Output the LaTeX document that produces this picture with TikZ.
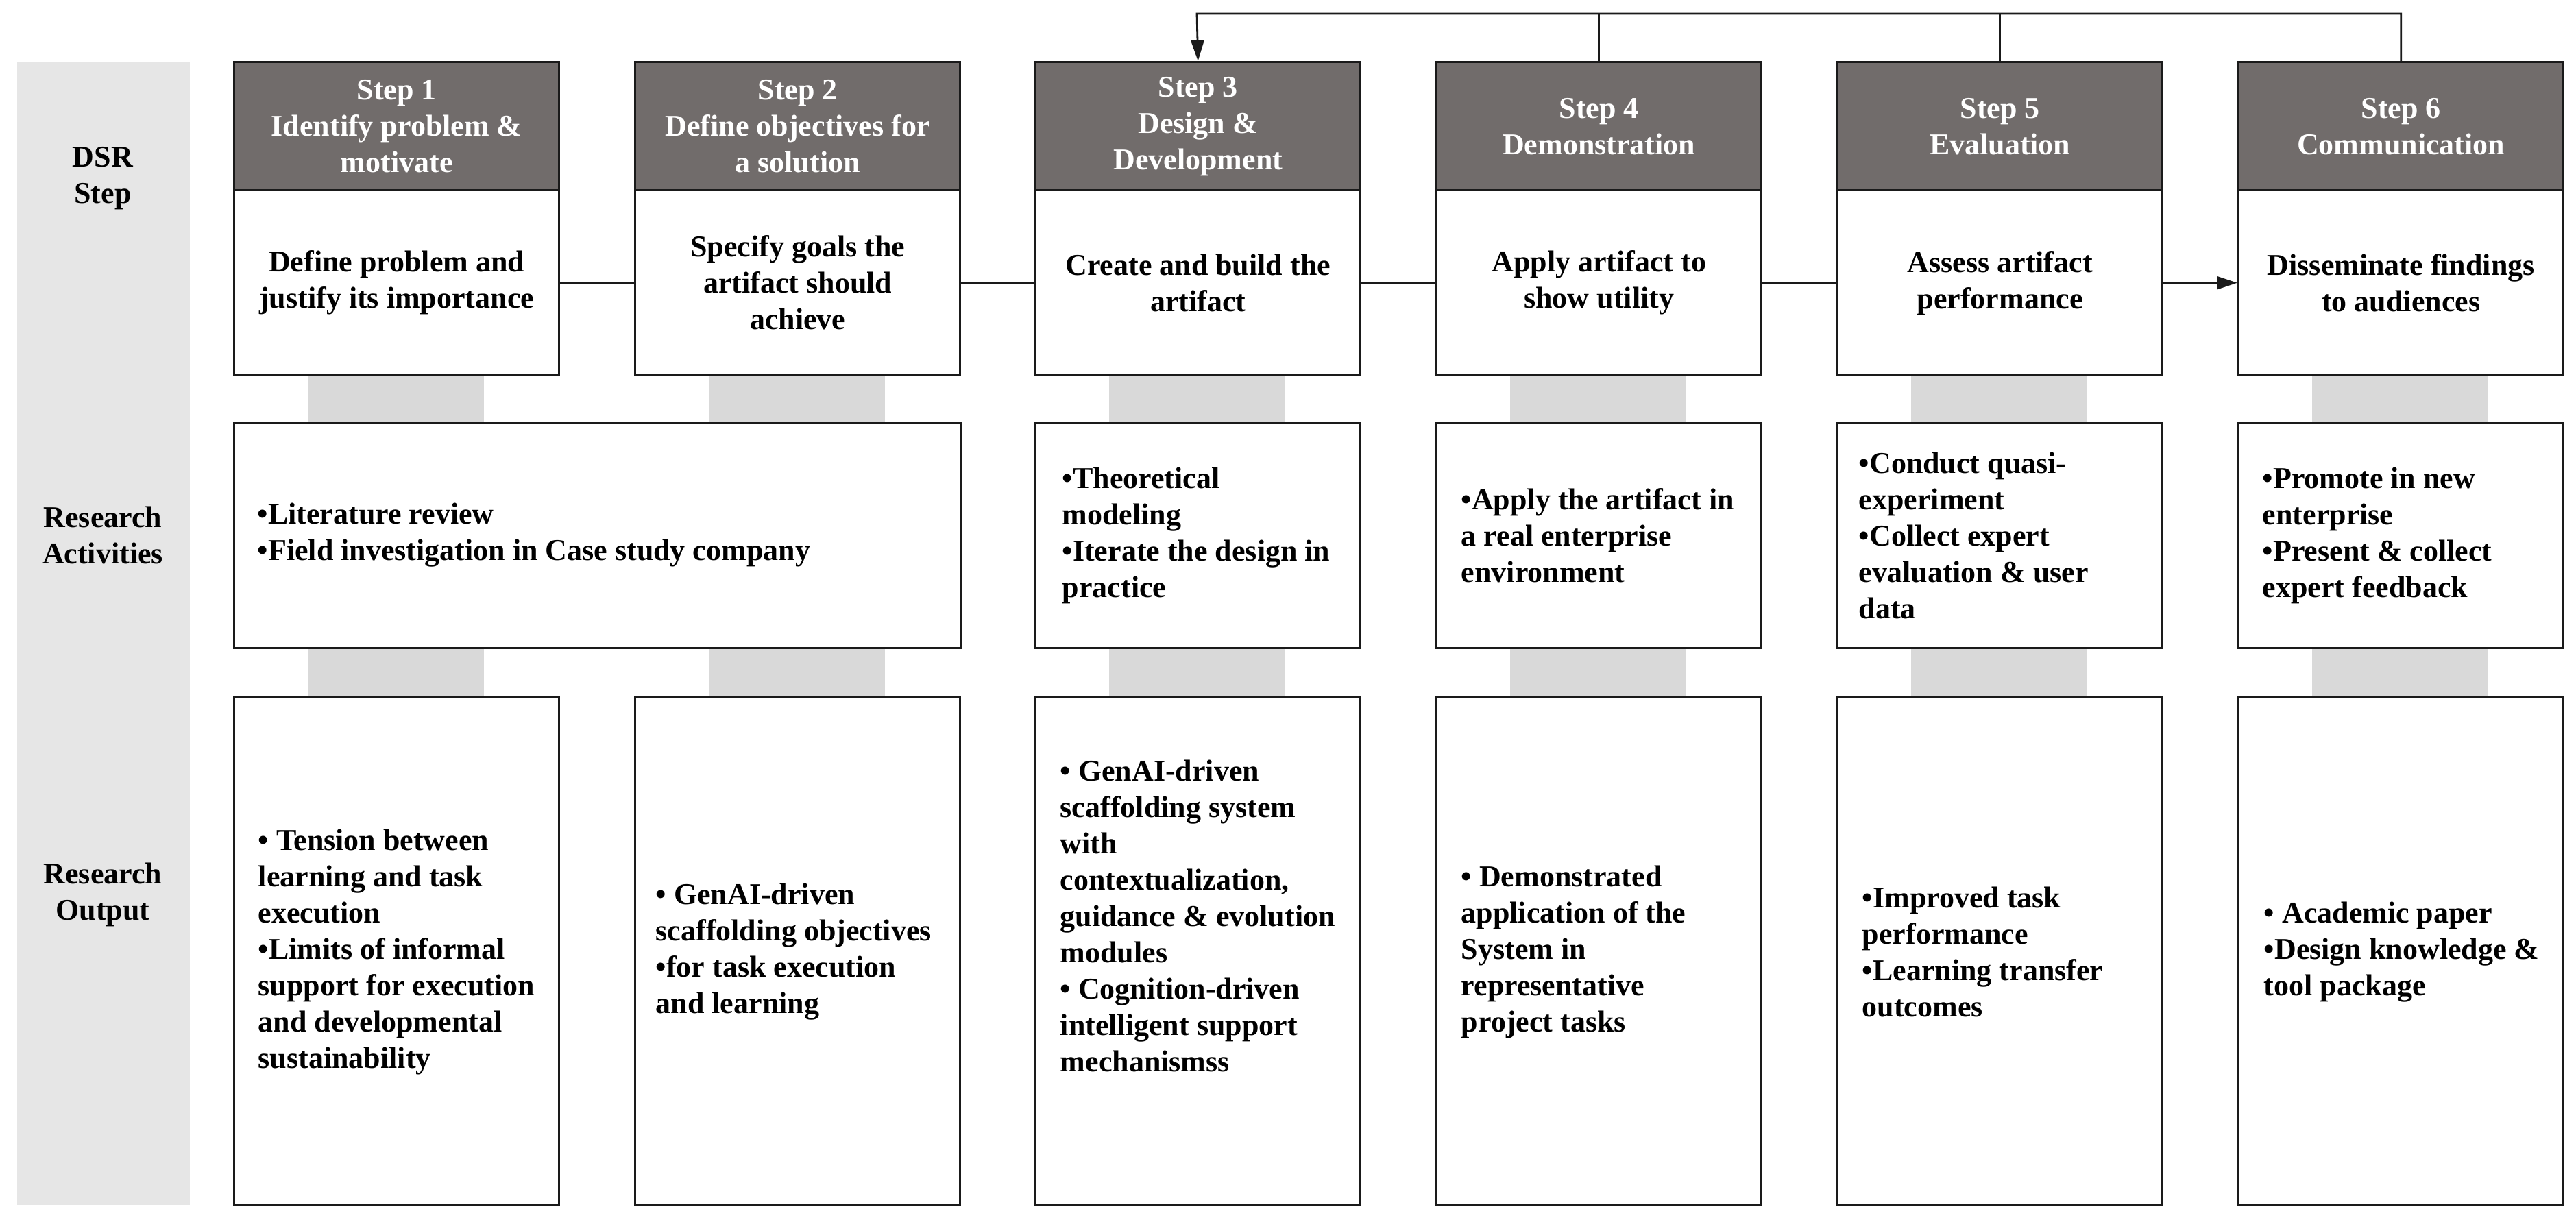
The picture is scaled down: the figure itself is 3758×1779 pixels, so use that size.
\documentclass[tikz,border=0pt]{standalone}
\usepackage{fontspec}
\setmainfont{Liberation Serif}
\usetikzlibrary{arrows.meta}
\definecolor{hdrgray}{HTML}{716C6B}
\definecolor{colgray}{HTML}{E6E6E6}
\definecolor{congray}{HTML}{D9D9D9}
\definecolor{edge}{HTML}{1A1A1A}
\begin{document}
\begin{tikzpicture}[x=0.25pt,y=-0.25pt,
  every node/.style={font=\fontsize{11}{13.25}\selectfont\bfseries},
  basebox/.style={draw=edge, line width=0.85pt, inner sep=0pt, anchor=north west, minimum width=118.5pt},
  hdrbox/.style={basebox, fill=hdrgray, text=white, align=center, minimum height=46.75pt},
  wbox/.style={basebox, fill=white, align=center, minimum height=67.5pt},
  actbox/.style={basebox, fill=white, minimum height=82pt},
  outbox/.style={basebox, fill=white, minimum height=185.25pt},
  txt/.style={anchor=west, align=left, inner sep=0pt},
  gcon/.style={fill=congray, draw=none, inner sep=0pt, anchor=north, minimum width=64.25pt},
  collabel/.style={align=center, inner sep=0pt},
  conn/.style={draw=edge, line width=0.7pt},
  tip/.style={-{Triangle[length=7.5pt,width=4.75pt]}}
]
\useasboundingbox (0,0) rectangle (3758,1779);
% left label column
\node[fill=colgray, draw=none, inner sep=0pt, anchor=north west, minimum width=63pt, minimum height=416.75pt] (col) at (24,90) {};
\node[collabel] (lab1) at (150,260) {DSR\\Step};
\node[collabel] (lab2) at (150,781) {Research\\Activities};
\node[collabel] (lab3) at (150,1305) {Research\\Output};

% gray connectors between rows
\foreach \c [count=\i] in {577,1162,1746,2331,2916,3501}{
  \node[gcon, minimum height=18pt] (ga\i) at (\c,544) {};
  \node[gcon, minimum height=19pt] (gb\i) at (\c,942) {};
}

% DSR step headers
\node[hdrbox] (h1) at (340,89) {Step 1\\Identify problem \&\\motivate};
\node[hdrbox] (h2) at (925,89) {Step 2\\Define objectives for\\a solution};
\node[hdrbox] (h3) at (1509,89) {Step 3\\Design \&\\Development};
\node[hdrbox] (h4) at (2094,89) {Step 4\\Demonstration};
\node[hdrbox] (h5) at (2679,89) {Step 5\\Evaluation};
\node[hdrbox] (h6) at (3264,89) {Step 6\\Communication};

% step descriptions
\node[wbox] (w1) at (340,276) {Define problem and\\justify its importance};
\node[wbox] (w2) at (925,276) {Specify goals the\\artifact should\\achieve};
\node[wbox] (w3) at (1509,276) {Create and build the\\artifact};
\node[wbox] (w4) at (2094,276) {Apply artifact to\\show utility};
\node[wbox] (w5) at (2679,276) {Assess artifact\\performance};
\node[wbox] (w6) at (3264,276) {Disseminate findings\\to audiences};

% research activities
\node[actbox, minimum width=265pt] (a12) at (340,616) {};
\node[actbox] (a3) at (1509,616) {};
\node[actbox] (a4) at (2094,616) {};
\node[actbox] (a5) at (2679,616) {};
\node[actbox] (a6) at (3264,616) {};
\node[txt] (ta12) at (375,781) {•Literature review\\•Field investigation in Case study company};
\node[txt] (ta3) at (1549,781) {•Theoretical\\modeling\\•Iterate the design in\\practice};
\node[txt] (ta4) at (2131,781) {•Apply the artifact in\\a real enterprise\\environment};
\node[txt] (ta5) at (2711,781) {•Conduct quasi-\\experiment\\•Collect expert\\evaluation \& user\\data};
\node[txt] (ta6) at (3300,781) {•Promote in new\\enterprise\\•Present \& collect\\expert feedback};

% research outputs
\node[outbox] (o1) at (340,1016) {};
\node[outbox] (o2) at (925,1016) {};
\node[outbox] (o3) at (1509,1016) {};
\node[outbox] (o4) at (2094,1016) {};
\node[outbox] (o5) at (2679,1016) {};
\node[outbox] (o6) at (3264,1016) {};
\node[txt] (to1) at (376,1389) {• Tension between\\learning and task\\execution\\•Limits of informal\\support for execution\\and developmental\\sustainability};
\node[txt] (to2) at (956,1389) {• GenAI-driven\\scaffolding objectives\\•for task execution\\and learning};
\node[txt] (to3) at (1546,1336) {• GenAI-driven\\scaffolding system\\with\\contextualization,\\guidance \& evolution\\modules\\• Cognition-driven\\intelligent support\\mechanismss};
\node[txt] (to4) at (2131,1389) {• Demonstrated\\application of the\\System in\\representative\\project tasks};
\node[txt] (to5) at (2716,1389) {•Improved task\\performance\\•Learning transfer\\outcomes};
\node[txt] (to6) at (3302,1389) {• Academic paper\\•Design knowledge \&\\tool package};

% process connectors
\draw[conn] (w1.east) -- (w2.west);
\draw[conn] (w2.east) -- (w3.west);
\draw[conn] (w3.east) -- (w4.west);
\draw[conn] (w4.east) -- (w5.west);
\draw[conn,tip] (w5.east) -- (w6.west);

% feedback loop
\coordinate (fb) at (1746,20);
\draw[conn,tip] (h6.north) |- (fb) -- (h3.north);
\draw[conn] (h4.north) -- (h4.north |- fb);
\draw[conn] (h5.north) -- (h5.north |- fb);
\end{tikzpicture}
\end{document}
